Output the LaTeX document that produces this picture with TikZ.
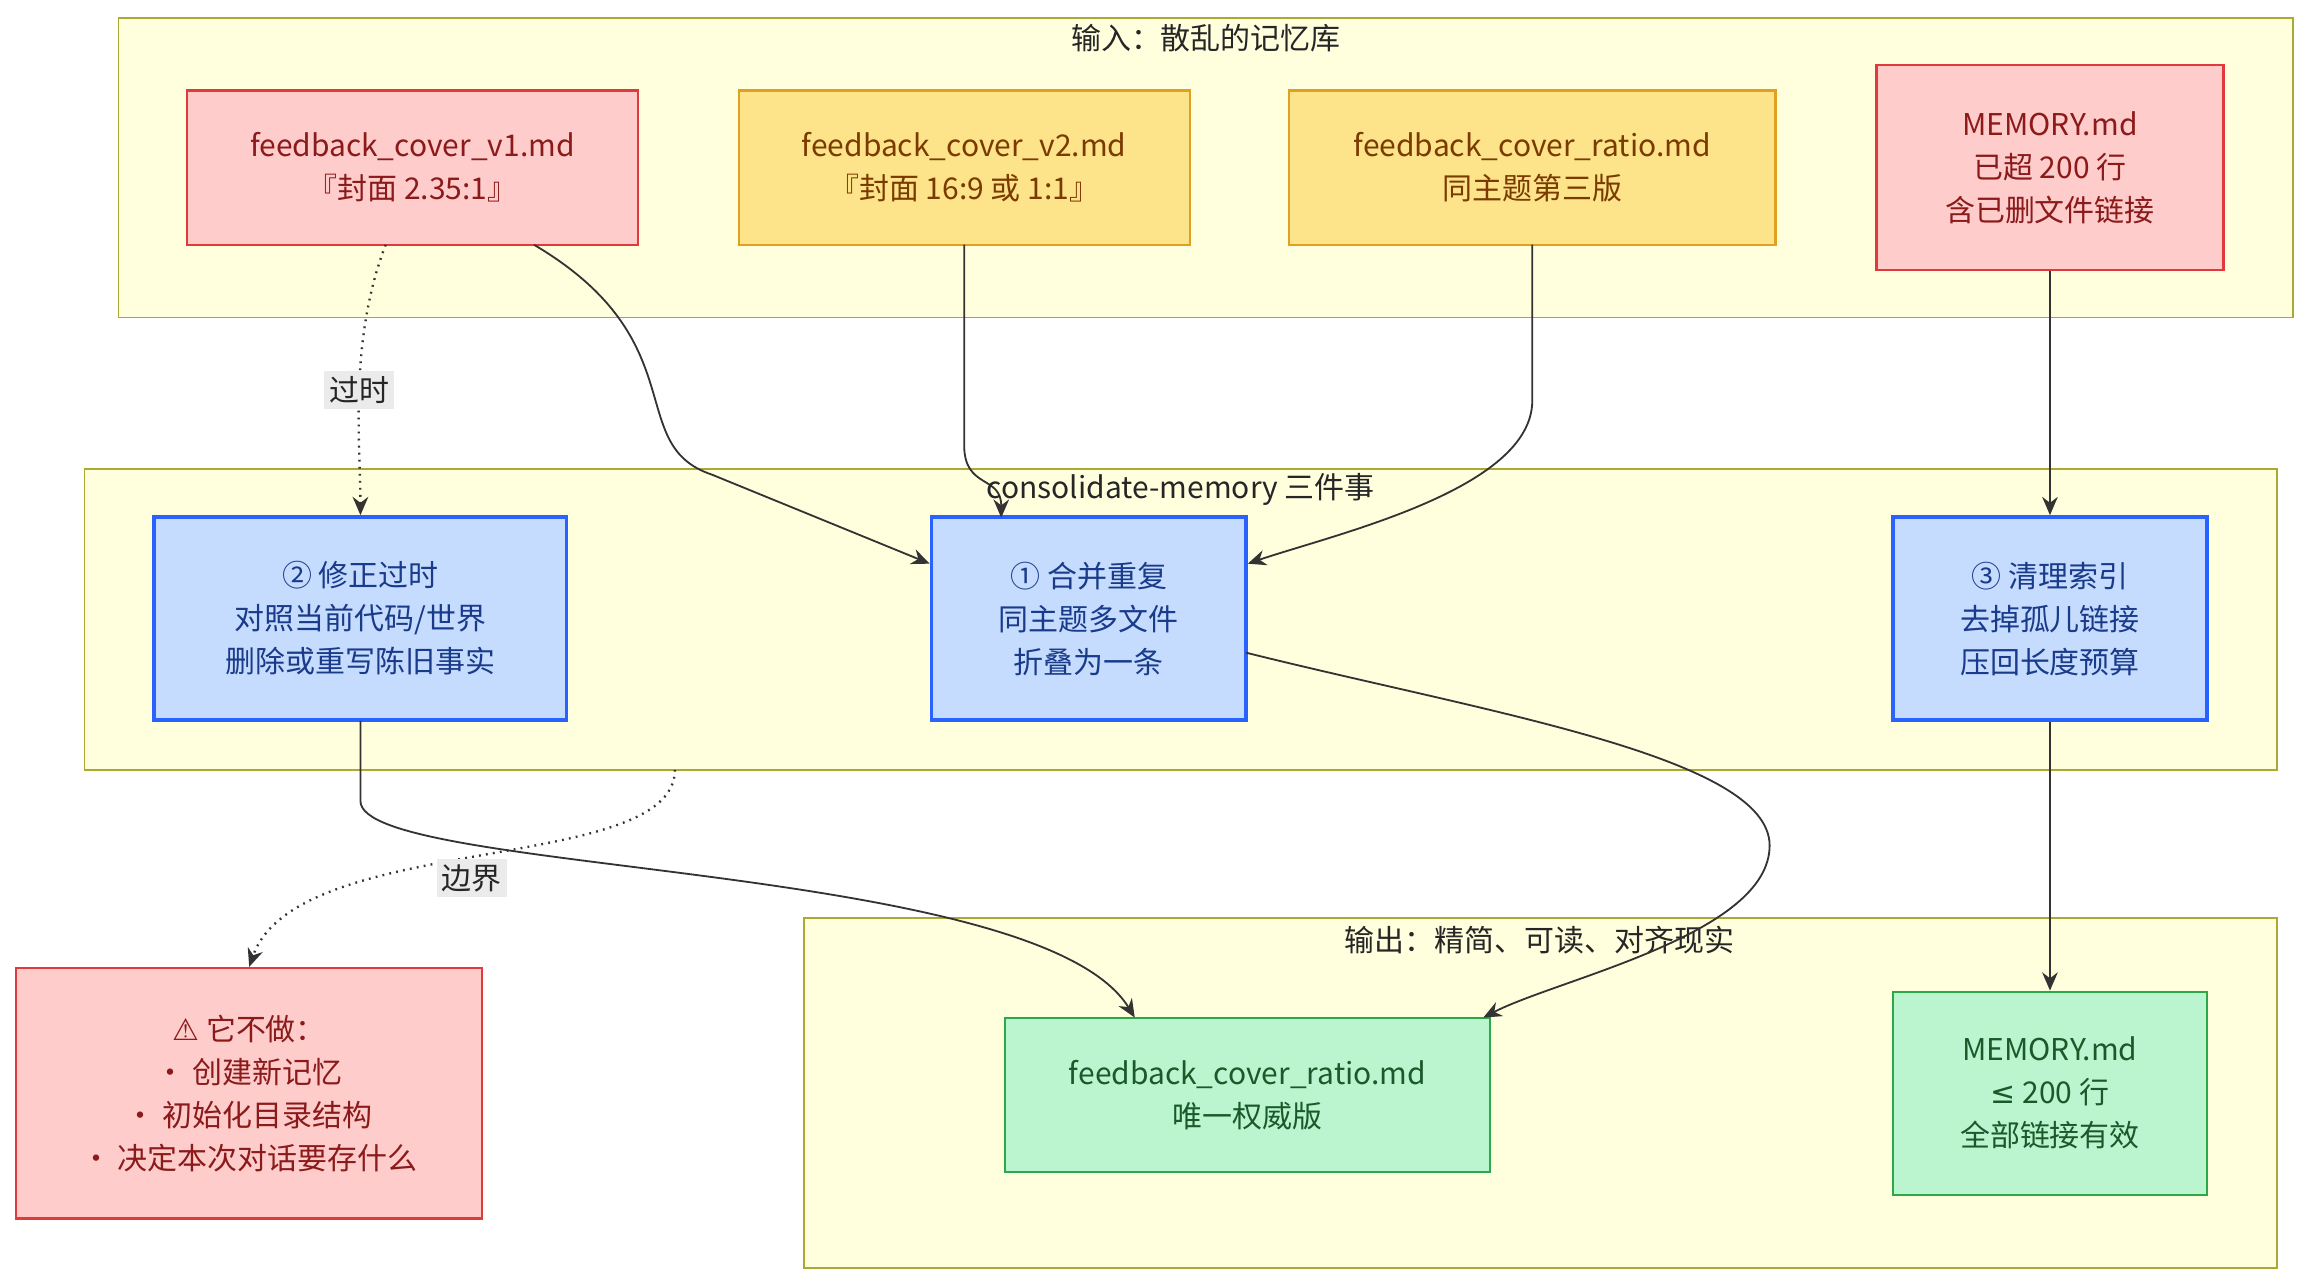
\documentclass[tikz,border=0pt]{standalone}
\usepackage{fontspec}
\setmainfont{Noto Sans CJK SC}
\newfontfamily\dejavu{DejaVu Sans}
\usetikzlibrary{arrows.meta}
\definecolor{clf}{HTML}{FFFFDE}\definecolor{cls}{HTML}{AAAA33}
\definecolor{rf}{HTML}{FFCCCC}\definecolor{rs}{HTML}{E03a3a}\definecolor{rt}{HTML}{8B1A1A}
\definecolor{yf}{HTML}{FDE38A}\definecolor{ys}{HTML}{E0A020}\definecolor{yt}{HTML}{7A3A00}
\definecolor{bf}{HTML}{C5DCFF}\definecolor{bs}{HTML}{2962FF}\definecolor{bt}{HTML}{1A3A8A}
\definecolor{gf}{HTML}{BBF5D0}\definecolor{gs}{HTML}{2AA84A}\definecolor{gt}{HTML}{1A5A2A}
\begin{document}
\begin{tikzpicture}[x=0.02cm,y=-0.02cm,
  every node/.style={font=\fontsize{11.5}{16.5}\selectfont},
  clus/.style={draw=cls,fill=clf,line width=0.6pt},
  box/.style={draw,line width=0.8pt,align=center,inner sep=0pt},
  red/.style={box,fill=rf,draw=rs,text=rt},
  yel/.style={box,fill=yf,draw=ys,text=yt},
  blu/.style={box,fill=bf,draw=bs,text=bt,line width=1.4pt},
  grn/.style={box,fill=gf,draw=gs,text=gt},
  arr/.style={draw=black!80,line width=0.7pt,-{Stealth[length=7pt,width=6pt]}},
  dot/.style={arr,dotted,line width=0.9pt},
  lab/.style={fill=black!8,inner sep=2pt,text=black!85}]
\useasboundingbox (0,0) rectangle (1560,868);
\path[clus] (80,12) rectangle (1546,214);
\node[text=black!85] (t1) at (813,26) {输入：散乱的记忆库};
\path[clus] (57,316) rectangle (1535,519);
\path[clus] (542,619) rectangle (1535,855);
\node[text=black!85] (t3) at (1038,634) {输出：精简、可读、对齐现实};

\node[red,minimum width=6.08cm,minimum height=2.08cm] (v1) at (278,113) {feedback\_cover\_v1.md\\『封面 2.35:1』};
\node[yel,minimum width=6.08cm,minimum height=2.08cm] (v2) at (650,113) {feedback\_cover\_v2.md\\『封面 16:9 或 1:1』};
\node[yel,minimum width=6.56cm,minimum height=2.08cm] (ra) at (1033,113) {feedback\_cover\_ratio.md\\同主题第三版};
\node[red,minimum width=4.68cm,minimum height=2.76cm] (me) at (1382,113) {MEMORY.md\\已超 200 行\\含已删文件链接};

\node[blu,minimum width=5.56cm,minimum height=2.74cm] (fx) at (243,417) {② 修正过时\\对照当前代码/世界\\删除或重写陈旧事实};
\node[blu,minimum width=4.24cm,minimum height=2.74cm] (mg) at (734,417) {① 合并重复\\同主题多文件\\折叠为一条};
\node[blu,minimum width=4.24cm,minimum height=2.74cm] (cl) at (1382,417) {③ 清理索引\\去掉孤儿链接\\压回长度预算};

\node[red,minimum width=6.28cm,minimum height=3.38cm] (wn) at (168,737) {{\dejavu ⚠} 它不做：\\· 创建新记忆\\· 初始化目录结构\\· 决定本次对话要存什么};
\node[grn,minimum width=6.54cm,minimum height=2.08cm] (or) at (841,738) {feedback\_cover\_ratio.md\\唯一权威版};
\node[grn,minimum width=4.24cm,minimum height=2.74cm] (om) at (1382,737) {MEMORY.md\\{\dejavu ≤} 200 行\\全部链接有效};

\coordinate (c2) at (455,519);
\draw[dot] (260,165) .. controls (235,230) and (243,300) .. node[lab,pos=0.5]{过时} (fx.north);
\draw[arr] (360,165) .. controls (470,230) and (420,300) .. (480,320) -- (mg.west|-0,380);
\draw[arr] (650,165) -- (650,300) .. controls (650,330) and (675,320) .. (675,349);
\draw[arr] (1033,165) -- (1033,270) .. controls (1033,330) and (900,360) .. (mg.east|-0,380);
\draw[arr] (me.south) -- (cl.north);
\draw[arr] (243,486) -- (243,540) .. controls (243,590) and (700,580) .. (765,686);
\draw[arr] (840,440) .. controls (1000,480) and (1193,510) .. (1193,570) .. controls (1193,630) and (1050,660) .. (1000,686);
\draw[dot] (c2) .. controls (455,590) and (200,560) .. (wn.north);
\node[lab] (l2) at (318,592) {边界};
\draw[arr] (cl.south) -- (om.north);
\node[text=black!85,inner sep=1pt] (t2) at (796,330) {consolidate-memory 三件事};
\end{tikzpicture}
\end{document}
